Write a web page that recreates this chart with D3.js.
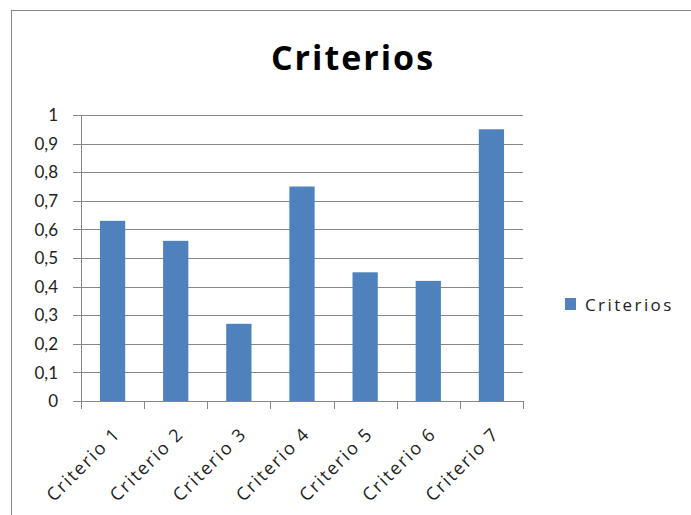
<!DOCTYPE html>
<html>
<head>
<meta charset="utf-8">
<script src="https://cdn.jsdelivr.net/npm/d3@7"></script>
<style>
  body { margin: 0; background: #fff; }
  svg { display: block; }
</style>
</head>
<body>
<script>
var categories = ["Criterio 1", "Criterio 2", "Criterio 3", "Criterio 4", "Criterio 5", "Criterio 6", "Criterio 7"];
var values = [0.63, 0.56, 0.27, 0.75, 0.45, 0.42, 0.95];
var yTicks = [0, 0.1, 0.2, 0.3, 0.4, 0.5, 0.6, 0.7, 0.8, 0.9, 1];
var seriesName = "Criterios";
var title = "Criterios";

function init(){
    var w = 691;
    var h = 515;
    var left = 81, right = 523, top = 115, bottom = 401;
    var barColor = "#4f81bd";
    var lineColor = "#878787";
    var numFont = "Lato, 'Liberation Sans', sans-serif";
    var font = "'Open Sans', 'Liberation Sans', sans-serif";

    var svg = d3.select("body")
                .append("svg")
                .attr("width", w)
                .attr("height", h);

    // chart frame
    svg.append("rect")
        .attr("x", 11.5)
        .attr("y", 10.5)
        .attr("width", w + 10)
        .attr("height", h + 10)
        .attr("fill", "none")
        .attr("stroke", lineColor)
        .attr("stroke-width", 1);

    svg.append("text")
        .attr("x", 353)
        .attr("y", 70)
        .attr("text-anchor", "middle")
        .style("font-family", font)
        .style("font-weight", "bold")
        .style("font-size", "34px")
        .style("letter-spacing", "2px")
        .text(title);

    var x = d3.scaleBand()
            .domain(categories)
            .range([left, right])
            .paddingInner(0.6)
            .paddingOuter(0.3);

    var y = d3.scaleLinear()
            .domain([0, 1])
            .range([bottom, top]);

    // gridlines
    svg.append("g")
        .selectAll("line")
        .data(yTicks)
        .enter()
        .append("line")
        .attr("x1", left - 8)
        .attr("x2", right)
        .attr("y1", function(d){ return Math.round(y(d)) + 0.5; })
        .attr("y2", function(d){ return Math.round(y(d)) + 0.5; })
        .attr("stroke", lineColor);

    // y labels
    svg.append("g")
        .selectAll("text")
        .data(yTicks)
        .enter()
        .append("text")
        .attr("x", left - 23)
        .attr("y", function(d){ return y(d); })
        .attr("dy", "0.36em")
        .attr("text-anchor", "end")
        .style("font-family", numFont)
        .style("font-size", "17px")
        .style("fill", "#222")
        .text(function(d){ return String(d).replace(".", ","); });

    // bars
    svg.append("g")
        .selectAll("rect")
        .data(values)
        .enter()
        .append("rect")
        .attr("x", function(d, i){ return x(categories[i]); })
        .attr("y", function(d){ return y(d); })
        .attr("width", x.bandwidth())
        .attr("height", function(d){ return bottom - y(d); })
        .attr("fill", barColor);

    // y axis line
    svg.append("line")
        .attr("x1", left + 0.5).attr("x2", left + 0.5)
        .attr("y1", top).attr("y2", bottom + 0.5)
        .attr("stroke", lineColor);

    // x axis with tick marks between categories
    var step = (right - left) / categories.length;
    var xTicks = d3.range(categories.length + 1);
    svg.append("line")
        .attr("x1", left).attr("x2", right + 1)
        .attr("y1", bottom + 0.5).attr("y2", bottom + 0.5)
        .attr("stroke", lineColor);
    svg.append("g")
        .selectAll("line")
        .data(xTicks)
        .enter()
        .append("line")
        .attr("x1", function(d){ return Math.round(left + d * step) + 0.5; })
        .attr("x2", function(d){ return Math.round(left + d * step) + 0.5; })
        .attr("y1", bottom)
        .attr("y2", bottom + 8)
        .attr("stroke", lineColor);

    // x labels
    svg.append("g")
        .selectAll("text")
        .data(categories)
        .enter()
        .append("text")
        .attr("transform", function(d){
            var cx = x(d) + x.bandwidth() / 2 + 9;
            return "translate(" + cx + "," + (bottom + 34) + ") rotate(-45)";
        })
        .attr("text-anchor", "end")
        .style("font-family", font)
        .style("font-size", "18px")
        .style("letter-spacing", "1.8px")
        .style("fill", "#222")
        .text(function(d){ return d; });

    // legend
    var lg = svg.append("g").attr("transform", "translate(565,298)");
    lg.append("rect")
        .attr("width", 11)
        .attr("height", 12)
        .attr("fill", barColor);
    lg.append("text")
        .attr("x", 20)
        .attr("y", 6.5)
        .attr("dy", "0.36em")
        .style("font-family", font)
        .style("font-size", "17px")
        .style("letter-spacing", "2.4px")
        .style("fill", "#222")
        .text(seriesName);
}

window.onload = init;
</script>
</body>
</html>
